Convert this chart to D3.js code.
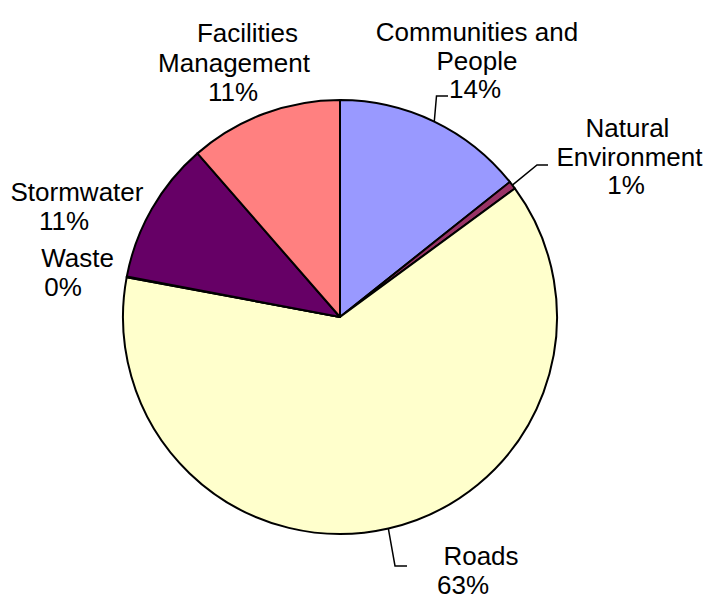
<!DOCTYPE html>
<html>
<head>
<meta charset="utf-8">
<script src="https://cdn.jsdelivr.net/npm/d3@7"></script>
<style>
  html, body { margin: 0; padding: 0; background: #fff; }
  svg { display: block; }
  text { font-family: "Liberation Sans", Arial, sans-serif; font-size: 26px; fill: #000; }
</style>
</head>
<body>
<svg id="chart" width="704" height="599"></svg>
<script>
// Share of spending by service area (percent)
const categories = ["Communities and People", "Natural Environment", "Roads", "Waste", "Stormwater", "Facilities Management"];
const values = [14.3, 0.6, 63.0, 0.05, 10.6, 11.4];
const colors = ["#9999FF", "#993366", "#FFFFCC", "#CCFFFF", "#660066", "#FF8080"];
// How each category name wraps in its label
const nameLines = [["Communities and", "People"], ["Natural", "Environment"], ["Roads"], ["Waste"], ["Stormwater"], ["Facilities", "Management"]];

// Label placement: [x centre, baseline] per text line; optional leader elbow and end
const labelLayout = [
  { lines: [[477, 41], [477, 69.5], [475, 98]], leader: [[436.5, 96], [448, 96]] },
  { lines: [[627.5, 137], [629.5, 165.5], [626, 193.5]], leader: [[537, 165], [548, 165]] },
  { lines: [[481, 565], [463, 594]], leader: [[395, 566], [407, 566]] },
  { lines: [[77.5, 266.7], [63, 295.7]] },
  { lines: [[77, 200.7], [64, 230]] },
  { lines: [[247.5, 42], [234, 72], [233, 101]] }
];

const cx = 340, cy = 317, radius = 217;
const total = d3.sum(values);

const svg = d3.select("#chart");
const g = svg.append("g").attr("transform", `translate(${cx},${cy})`);

const pie = d3.pie().sort(null).value(d => d.value).startAngle(0).endAngle(2 * Math.PI);
const arc = d3.arc().innerRadius(0).outerRadius(radius);

const data = categories.map((c, i) => ({ name: c, value: values[i], color: colors[i], i }));
const arcs = pie(data);

g.selectAll("path.slice")
  .data(arcs)
  .join("path")
  .attr("class", "slice")
  .attr("d", arc)
  .attr("fill", d => d.data.color)
  .attr("stroke", "#000")
  .attr("stroke-width", 2)
  .attr("stroke-linejoin", "round");

// Leader lines from the slice edge to the label
arcs.forEach(a => {
  const lay = labelLayout[a.index];
  if (!lay.leader) return;
  const mid = (a.startAngle + a.endAngle) / 2;
  const start = [cx + radius * Math.sin(mid), cy - radius * Math.cos(mid)];
  const pts = [start].concat(lay.leader);
  svg.append("path")
    .attr("d", d3.line()(pts))
    .attr("fill", "none")
    .attr("stroke", "#000")
    .attr("stroke-width", 1.5);
});

// Category labels with percentage
arcs.forEach(a => {
  const lay = labelLayout[a.index];
  const pct = Math.round(a.data.value / total * 100) + "%";
  const lines = nameLines[a.index].concat([pct]);
  lines.forEach((t, k) => {
    svg.append("text")
      .attr("x", lay.lines[k][0])
      .attr("y", lay.lines[k][1])
      .attr("text-anchor", "middle")
      .text(t);
  });
});
</script>
</body>
</html>
